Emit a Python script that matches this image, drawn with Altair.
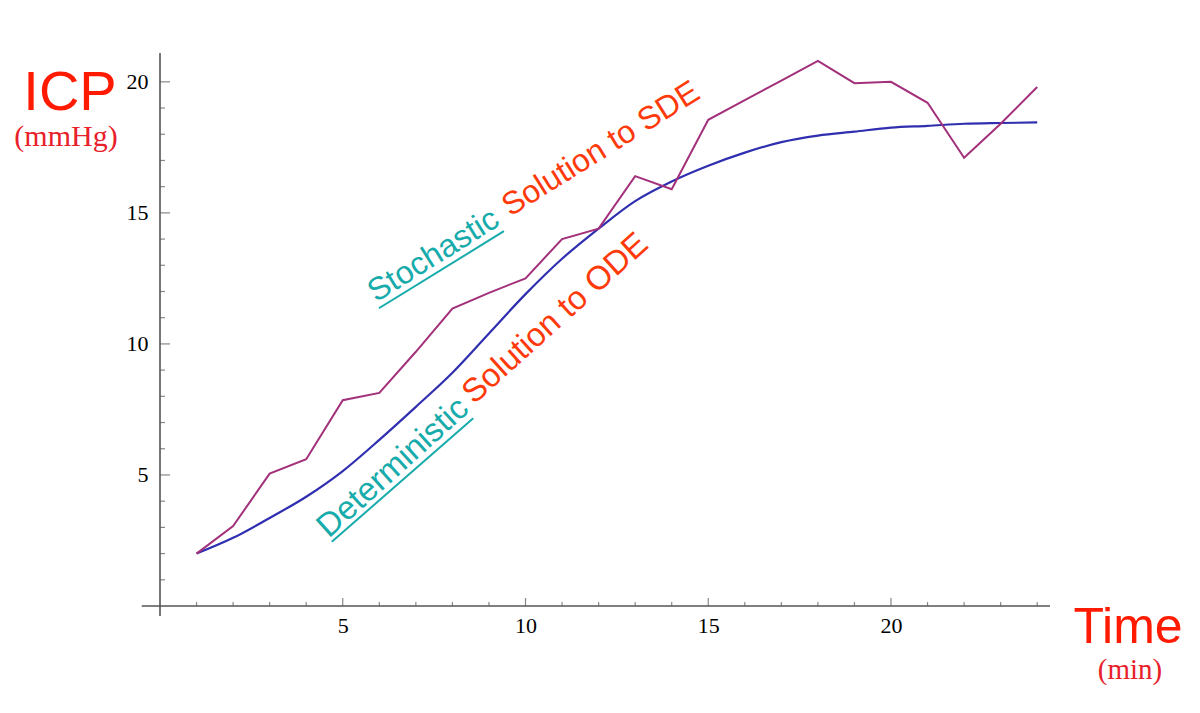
import altair as alt
import pandas as pd

# ---- data ----
time_min = list(range(1, 25))
ode_icp = [2.0, 2.6, 3.36, 4.17, 5.15, 6.34, 7.6, 8.9, 10.4, 11.9, 13.25, 14.4,
           15.45, 16.2, 16.8, 17.3, 17.7, 17.95, 18.1, 18.25, 18.32, 18.4, 18.43, 18.45]
sde_icp = [2.0, 3.05, 5.05, 5.6, 7.85, 8.13, 9.7, 11.35, 11.95, 12.5, 14.0, 14.4,
           16.4, 15.9, 18.55, 19.3, 20.05, 20.8, 19.95, 20.0, 19.2, 17.1, 18.4, 19.8]

x_major = [5, 10, 15, 20]
y_major = [5, 10, 15, 20]
x_minor = [v for v in range(1, 25) if v % 5]
y_minor = [v for v in range(1, 21) if v % 5]

X_DOM = [0, 24.35]
Y_DOM = [0, 21.1]

df = pd.DataFrame({"t": time_min, "ode": ode_icp, "sde": sde_icp})

xs = alt.Scale(domain=X_DOM, nice=False, zero=False)
ys = alt.Scale(domain=Y_DOM, nice=False, zero=False)

label_font = "Liberation Serif"
x_axis = alt.Axis(values=x_major, ticks=False, tickSize=0, domain=False, grid=False,
                  labelFont=label_font, labelFontSize=22, labelColor="black",
                  labelPadding=9, title=None)
y_axis = alt.Axis(values=y_major, ticks=False, tickSize=0, domain=False, grid=False,
                  labelFont=label_font, labelFontSize=22, labelColor="black",
                  labelPadding=12, title=None)

base = alt.Chart(df)

ode_line = base.mark_line(color="#2f2fb0", strokeWidth=2.2, interpolate="monotone").encode(
    x=alt.X("t:Q", scale=xs, axis=x_axis),
    y=alt.Y("ode:Q", scale=ys, axis=y_axis),
)
sde_line = base.mark_line(color="#a2307a", strokeWidth=2.0).encode(
    x=alt.X("t:Q", scale=xs),
    y=alt.Y("sde:Q", scale=ys),
)

axis_color = "#555555"
# axis lines (Mathematica style, crossing at origin)
y_axis_line = alt.Chart(pd.DataFrame({"x": [0], "y": [-0.38], "y2": [Y_DOM[1]]})).mark_rule(
    color=axis_color, strokeWidth=1.6).encode(
    x=alt.X("x:Q", scale=xs), y=alt.Y("y:Q", scale=ys), y2="y2:Q")
x_axis_line = alt.Chart(pd.DataFrame({"y": [0], "x": [-0.5], "x2": [X_DOM[1]]})).mark_rule(
    color=axis_color, strokeWidth=1.6).encode(
    y=alt.Y("y:Q", scale=ys), x=alt.X("x:Q", scale=xs), x2="x2:Q")

def xticks(vals, size):
    return alt.Chart(pd.DataFrame({"v": vals, "z": [0] * len(vals)})).mark_tick(
        color=axis_color, thickness=1.2, size=size, yOffset=-size / 2, orient="vertical").encode(
        x=alt.X("v:Q", scale=xs), y=alt.Y("z:Q", scale=ys))

def yticks(vals, size):
    return alt.Chart(pd.DataFrame({"v": vals, "z": [0] * len(vals)})).mark_tick(
        color=axis_color, thickness=1.2, size=size, xOffset=size / 2, orient="horizontal").encode(
        y=alt.Y("v:Q", scale=ys), x=alt.X("z:Q", scale=xs))

# annotations
teal = "#17abab"
orange_red = "#ff3a0a"

def label(text, x, y, color, angle, size=33):
    return alt.Chart(pd.DataFrame({"x": [x], "y": [y], "s": [text]})).mark_text(
        font="Liberation Sans", fontSize=size, color=color, angle=angle,
        align="left", baseline="alphabetic").encode(
        x=alt.X("x:Q", scale=xs), y=alt.Y("y:Q", scale=ys), text="s:N")

def underline(x, y, x2, y2):
    return alt.Chart(pd.DataFrame({"x": [x], "y": [y], "x2": [x2], "y2": [y2]})).mark_rule(
        color=teal, strokeWidth=2).encode(
        x=alt.X("x:Q", scale=xs), y=alt.Y("y:Q", scale=ys), x2="x2:Q", y2="y2:Q")

stoch = label("Stochastic", 5.91, 11.57, teal, 328, 32)
stoch_u = underline(5.99, 11.36, 9.41, 14.30)
sde_txt = label("Solution to SDE", 9.58, 14.84, orange_red, 328, 32)

det = label("Deterministic", 4.62, 2.57, teal, 318)
det_u = underline(4.70, 2.45, 8.57, 7.16)
ode_txt = label("Solution to ODE", 8.59, 7.67, orange_red, 318)

def title_text(text, px, py, font, size, color):
    return alt.Chart(pd.DataFrame({"s": [text]})).mark_text(
        font=font, fontSize=size, color=color, align="center", baseline="alphabetic").encode(
        x=alt.value(px), y=alt.value(py), text="s:N")

icp = title_text("ICP", -90, 57, "Liberation Sans", 56, "#ff1a00")
mmhg = title_text("(mmHg)", -94, 93, label_font, 30, "#e8202a")
time_t = title_text("Time", 968, 590, "Liberation Sans", 50, "#ff1a00")
mins = title_text("(min)", 970, 626, label_font, 29, "#e8202a")

chart = alt.layer(
    y_axis_line, x_axis_line,
    xticks(x_minor, 4), xticks(x_major, 8), yticks(y_minor, 5), yticks(y_major, 10),
    ode_line, sde_line,
    stoch, stoch_u, sde_txt, det, det_u, ode_txt,
    icp, mmhg, time_t, mins,
).properties(
    width=890, height=553,
    background="white",
    autosize=alt.AutoSizeParams(type="none"),
    padding={"left": 152, "top": 45, "right": 140, "bottom": 95},
).configure_view(stroke=None)

chart.save("out.html", embed_options={"renderer": "svg", "actions": False})
